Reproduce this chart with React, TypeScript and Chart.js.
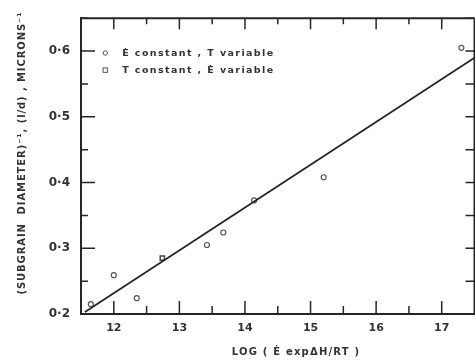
import React, { useEffect, useRef } from "react";
import { Chart, registerables } from "chart.js";

Chart.register(...registerables);

// ---- data ----
const circleX = [11.65, 12.0, 12.35, 13.42, 13.67, 14.14, 15.2, 17.3];
const circleY = [0.215, 0.259, 0.224, 0.305, 0.324, 0.373, 0.408, 0.605];
const squareX = [12.74];
const squareY = [0.285];
const fitX = [11.56, 17.5];
const fitY = [0.203, 0.59];
const xMajorTicks = [12, 13, 14, 15, 16, 17];
const yMajorTicks = [0.2, 0.3, 0.4, 0.5, 0.6];
const xTitle = "LOG ( Ė expΔH/RT )";
const yTitle = "(SUBGRAIN  DIAMETER)⁻¹, (l/d) , MICRONS⁻¹";
const legendLabels = ["Ė constant , T variable", "T constant , Ė variable"];

const INK = "#262626";
const FONT = "'DejaVu Sans', sans-serif";

const decorPlugin = {
  id: "decor",
  afterDraw(chart: any) {
    const { ctx, chartArea, scales } = chart;
    const xs = scales.x;
    const ys = scales.y;
    const { left, right, top, bottom } = chartArea;
    ctx.save();
    ctx.strokeStyle = INK;
    ctx.lineWidth = 2;
    // top/right frame
    ctx.beginPath();
    ctx.moveTo(left, top);
    ctx.lineTo(right, top);
    ctx.moveTo(right, top);
    ctx.lineTo(right, bottom);
    ctx.stroke();
    ctx.lineWidth = 1.5;
    // x ticks (bottom up, top down)
    for (let v = 12; v <= 17.01; v += 0.5) {
      const major = Math.abs(v - Math.round(v)) < 1e-6;
      const px = xs.getPixelForValue(v);
      ctx.beginPath();
      ctx.moveTo(px, bottom);
      ctx.lineTo(px, bottom - (major ? 13 : 8));
      ctx.moveTo(px, top);
      ctx.lineTo(px, top + (major ? 11 : 6));
      ctx.stroke();
    }
    // y ticks (left inward, right inward)
    for (let i = 0; i <= 9; i++) {
      const v = 0.2 + i * 0.05;
      const major = i % 2 === 0;
      const py = ys.getPixelForValue(v);
      ctx.beginPath();
      ctx.moveTo(left, py);
      ctx.lineTo(left + (major ? 14 : 7), py);
      ctx.moveTo(right, py);
      ctx.lineTo(right - 9, py);
      ctx.stroke();
    }
    // axis titles
    ctx.fillStyle = "#333";
    ctx.font = `bold 10px ${FONT}`;
    ctx.textAlign = "center";
    ctx.textBaseline = "middle";
    (ctx as any).letterSpacing = "1.2px";
    ctx.fillText(xTitle, 296, 352);
    ctx.save();
    ctx.translate(22, 153);
    ctx.rotate(-Math.PI / 2);
    (ctx as any).letterSpacing = "0.9px";
    ctx.fillText(yTitle, 0, 0);
    ctx.restore();
    // legend
    (ctx as any).letterSpacing = "1.4px";
    ctx.textAlign = "left";
    ctx.font = `bold 9.5px ${FONT}`;
    const lx = xs.getPixelForValue(11.87);
    const ly1 = ys.getPixelForValue(0.597);
    const ly2 = ys.getPixelForValue(0.571);
    ctx.lineWidth = 1;
    ctx.strokeStyle = "#555";
    ctx.fillStyle = "#fff";
    ctx.beginPath();
    ctx.arc(lx, ly1, 2.2, 0, Math.PI * 2);
    ctx.fill();
    ctx.stroke();
    ctx.strokeRect(lx - 2.2, ly2 - 2.2, 4.4, 4.4);
    ctx.fillStyle = "#333";
    ctx.fillText(legendLabels[0], lx + 17, ly1);
    ctx.fillText(legendLabels[1], lx + 17, ly2);
    ctx.restore();
  },
};

export default function App() {
  const ref = useRef<HTMLCanvasElement | null>(null);
  useEffect(() => {
    document.body.style.margin = "0";
    const canvas = ref.current!;
    const chart = new Chart(canvas, {
      type: "scatter",
      data: {
        datasets: [
          {
            label: "fit",
            data: fitX.map((x, i) => ({ x, y: fitY[i] })),
            showLine: true,
            borderColor: INK,
            borderWidth: 1.8,
            pointRadius: 0,
          },
          {
            label: "circles",
            data: circleX.map((x, i) => ({ x, y: circleY[i] })),
            pointStyle: "circle",
            pointRadius: 2.5,
            borderColor: "#555",
            backgroundColor: "#fff",
            borderWidth: 1.2,
          },
          {
            label: "squares",
            data: squareX.map((x, i) => ({ x, y: squareY[i] })),
            pointStyle: "rect",
            pointRadius: 3,
            borderColor: "#444",
            backgroundColor: "#fff",
            borderWidth: 1.5,
          },
        ],
      },
      options: {
        responsive: false,
        animation: false,
        layout: { padding: { top: 17, right: 3, left: 0, bottom: 0 } },
        plugins: { legend: { display: false }, tooltip: { enabled: false } },
        scales: {
          x: {
            type: "linear",
            min: 11.5,
            max: 17.5,
            afterFit: (s: any) => {
              s.height = 47;
            },
            afterBuildTicks: (s: any) => {
              s.ticks = xMajorTicks.map((v) => ({ value: v }));
            },
            grid: { display: false, drawTicks: false },
            border: { display: true, color: INK, width: 2 },
            ticks: {
              padding: 8,
              color: "#333",
              font: { family: FONT, size: 11, weight: "bold" },
              callback: (v: any) => String(v),
            },
          },
          y: {
            type: "linear",
            min: 0.2,
            max: 0.65,
            afterFit: (s: any) => {
              s.width = 81;
            },
            afterBuildTicks: (s: any) => {
              s.ticks = yMajorTicks.map((v) => ({ value: v }));
            },
            grid: { display: false, drawTicks: false },
            border: { display: true, color: INK, width: 2 },
            ticks: {
              padding: 11,
              color: "#333",
              font: { family: FONT, size: 12, weight: "bold" },
              callback: (v: any) => "0·" + Math.round(Number(v) * 10),
            },
          },
        },
      },
      plugins: [decorPlugin],
    } as any);
    return () => chart.destroy();
  }, []);
  return (
    <div style={{ width: 475, height: 361, overflow: "hidden", background: "#fff" }}>
      <canvas ref={ref} width={480} height={361} style={{ display: "block", width: 480, height: 361 }} />
    </div>
  );
}
